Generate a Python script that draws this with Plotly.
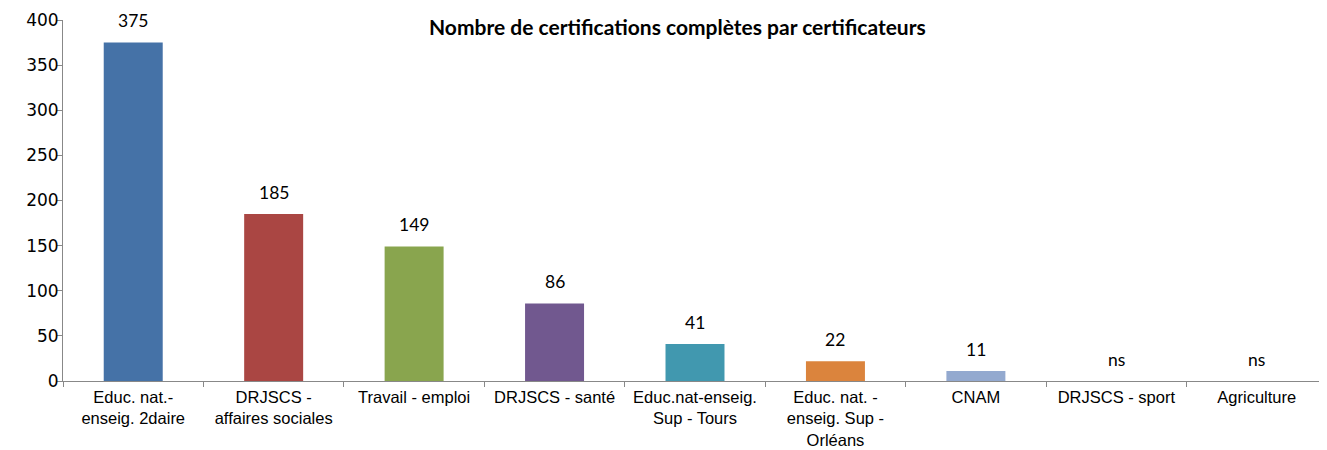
import plotly.graph_objects as go

categories = [
    "Educ. nat.-<br>enseig. 2daire",
    "DRJSCS -<br>affaires sociales",
    "Travail - emploi",
    "DRJSCS - santé",
    "Educ.nat-enseig.<br>Sup - Tours",
    "Educ. nat. -<br>enseig. Sup -<br>Orléans",
    "CNAM",
    "DRJSCS - sport",
    "Agriculture",
]
values = [375, 185, 149, 86, 41, 22, 11, 0, 0]
value_labels = ["375", "185", "149", "86", "41", "22", "11", "ns", "ns"]
colors = ["#4572A7", "#AA4643", "#89A54E", "#71588F", "#4198AF", "#DB843D", "#93A9CF", "#4572A7", "#4572A7"]
y_ticks = [0, 50, 100, 150, 200, 250, 300, 350, 400]
title = "Nombre de certifications complètes par certificateurs"

fig = go.Figure()
fig.add_trace(go.Bar(
    x=categories, y=values, marker=dict(color=colors, line=dict(width=0)),
    width=0.42, showlegend=False, hoverinfo="x+y",
))

for c, v, t in zip(categories, values, value_labels):
    fig.add_annotation(x=c, y=v, text=t, showarrow=False, yanchor="middle",
                       yshift=22, font=dict(family="Lato", size=17.5, color="#000"))

fig.add_annotation(xref="paper", yref="paper", x=0.486, y=0.981, text="<b>" + title + "</b>",
                   showarrow=False, xanchor="center", yanchor="middle",
                   font=dict(family="Lato", size=21, color="#000"))

# page body has an 8px margin: shift/shrink the figure to compensate
fig.update_layout(
    width=1319, height=442,
    margin=dict(l=55, r=0, t=12, b=69, autoexpand=False),
    paper_bgcolor="white", plot_bgcolor="white",
)
fig.update_xaxes(
    type="category", showline=True, linecolor="#888", linewidth=1,
    ticks="outside", tickson="boundaries", ticklen=5, tickcolor="#888",
    showgrid=False, tickfont=dict(family="Liberation Sans, Arial", size=16.5, color="#000"),
    tickangle=0, automargin=False, ticklabelstandoff=1,
)
fig.update_yaxes(
    range=[0, 400], tickvals=y_ticks, showline=True, linecolor="#888", linewidth=1,
    ticks="outside", ticklen=5, tickcolor="#888", showgrid=False, zeroline=False,
    tickfont=dict(family="DejaVu Sans", size=17, color="#000"), automargin=False,
    ticklabelstandoff=-5,
)

fig.write_html("out.html")
